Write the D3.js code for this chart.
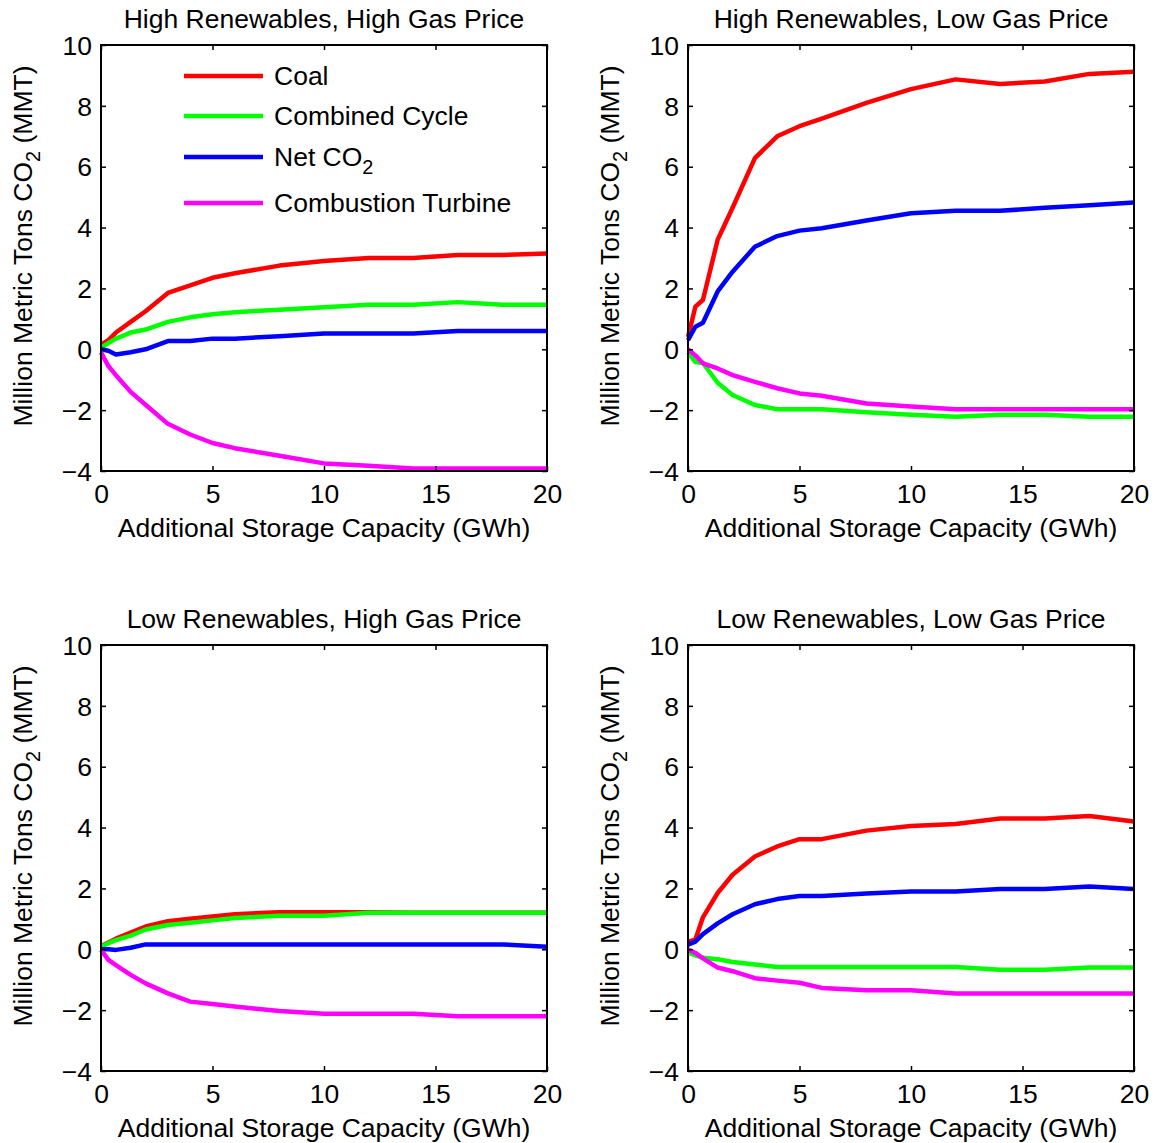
<!DOCTYPE html>
<html>
<head>
<meta charset="utf-8">
<script src="https://cdn.jsdelivr.net/npm/d3@7"></script>
<style>
  body { margin: 0; background: #fff; }
  text { font-family: "Liberation Sans", Arial, sans-serif; fill: #000; }
</style>
</head>
<body>
<svg id="chart"></svg>
<script>
const WIDTH = 1156;
const HEIGHT = 1143;

// storage capacity (GWh)
const xVals = [0, 0.33, 0.67, 1.33, 2, 3, 4, 5, 6, 8, 10, 12, 14, 16, 18, 20];
const xTicks = [0, 5, 10, 15, 20];
const yTicks = [-4, -2, 0, 2, 4, 6, 8, 10];

const seriesNames = ["Coal", "Combined Cycle", "Net CO2", "Combustion Turbine"];
const seriesColors = ["#ff0000", "#00ff00", "#0000ff", "#ff00ff"];

const panelTitles = [
  "High Renewables, High Gas Price",
  "High Renewables, Low Gas Price",
  "Low Renewables, High Gas Price",
  "Low Renewables, Low Gas Price",
];

// High Renewables, High Gas Price
const hrhgCoal = [0.15, 0.3, 0.55, 0.9, 1.25, 1.85, 2.1, 2.35, 2.5, 2.75, 2.9, 3.0, 3.0, 3.1, 3.1, 3.15];
const hrhgCC = [0.05, 0.2, 0.35, 0.55, 0.65, 0.9, 1.05, 1.15, 1.22, 1.3, 1.38, 1.46, 1.46, 1.55, 1.46, 1.46];
const hrhgNet = [0, -0.05, -0.17, -0.1, 0, 0.27, 0.27, 0.35, 0.35, 0.43, 0.52, 0.52, 0.52, 0.6, 0.6, 0.6];
const hrhgCT = [-0.1, -0.55, -0.85, -1.4, -1.82, -2.45, -2.8, -3.08, -3.25, -3.5, -3.75, -3.83, -3.92, -3.92, -3.92, -3.92];

// High Renewables, Low Gas Price
const hrlgCoal = [0.4, 1.4, 1.62, 3.6, 4.65, 6.28, 7.0, 7.33, 7.58, 8.1, 8.55, 8.87, 8.72, 8.8, 9.05, 9.12];
const hrlgCC = [-0.1, -0.42, -0.45, -1.1, -1.5, -1.83, -1.97, -1.97, -1.97, -2.07, -2.15, -2.22, -2.15, -2.15, -2.22, -2.22];
const hrlgNet = [0.3, 0.74, 0.87, 1.9, 2.55, 3.37, 3.72, 3.9, 3.98, 4.23, 4.47, 4.55, 4.55, 4.65, 4.73, 4.82];
const hrlgCT = [0, -0.2, -0.46, -0.63, -0.85, -1.07, -1.28, -1.45, -1.53, -1.78, -1.88, -1.97, -1.97, -1.97, -1.97, -1.97];

// Low Renewables, High Gas Price
const lrhgCoal = [0.1, 0.22, 0.35, 0.55, 0.75, 0.92, 1.0, 1.08, 1.15, 1.22, 1.22, 1.22, 1.2, 1.2, 1.2, 1.2];
const lrhgCC = [0.08, 0.2, 0.3, 0.45, 0.65, 0.8, 0.87, 0.95, 1.03, 1.1, 1.1, 1.2, 1.2, 1.2, 1.2, 1.2];
const lrhgNet = [0, 0, -0.02, 0.05, 0.16, 0.16, 0.16, 0.16, 0.16, 0.16, 0.16, 0.16, 0.16, 0.16, 0.16, 0.08];
const lrhgCT = [-0.02, -0.35, -0.52, -0.84, -1.12, -1.45, -1.72, -1.8, -1.88, -2.03, -2.12, -2.12, -2.12, -2.2, -2.2, -2.2];

// Low Renewables, Low Gas Price
const lrlgCoal = [0.25, 0.32, 1.05, 1.85, 2.45, 3.05, 3.38, 3.62, 3.62, 3.9, 4.05, 4.12, 4.3, 4.3, 4.38, 4.2];
const lrlgCC = [-0.1, -0.2, -0.28, -0.33, -0.42, -0.5, -0.58, -0.58, -0.58, -0.58, -0.58, -0.58, -0.67, -0.67, -0.6, -0.6];
const lrlgNet = [0.15, 0.25, 0.5, 0.85, 1.15, 1.48, 1.65, 1.75, 1.75, 1.83, 1.9, 1.9, 1.98, 1.98, 2.06, 1.98];
const lrlgCT = [0, -0.12, -0.3, -0.6, -0.72, -0.95, -1.03, -1.1, -1.27, -1.35, -1.35, -1.45, -1.45, -1.45, -1.45, -1.45];

const panelSeries = [
  [hrhgCoal, hrhgCC, hrhgNet, hrhgCT],
  [hrlgCoal, hrlgCC, hrlgNet, hrlgCT],
  [lrhgCoal, lrhgCC, lrhgNet, lrhgCT],
  [lrlgCoal, lrlgCC, lrlgNet, lrlgCT],
];

const PLOT_W = 446;
const PLOT_H = 426;
const origins = [[101, 45], [688, 45], [101, 645], [688, 645]];
const FONT = 26.5;

const svg = d3.select("#chart").attr("width", WIDTH).attr("height", HEIGHT);

const x = d3.scaleLinear().domain([0, 20]).range([0, PLOT_W]);
const y = d3.scaleLinear().domain([-4, 10]).range([PLOT_H, 0]);

const line = d3.line()
  .x((d) => x(d[0]))
  .y((d) => y(d[1]));

panelSeries.forEach((series, p) => {
  const [ox, oy] = origins[p];
  const g = svg.append("g").attr("transform", `translate(${ox},${oy})`);

  // lines
  g.append("g")
    .attr("class", "lines")
    .selectAll("path")
    .data(series)
    .join("path")
    .attr("d", (vals) => line(vals.map((v, i) => [xVals[i], v])))
    .attr("fill", "none")
    .attr("stroke", (_, i) => seriesColors[i])
    .attr("stroke-width", 4.5)
    .attr("stroke-linejoin", "round");

  // axes (ticks pointing inward, MATLAB style box)
  const bottom = g.append("g")
    .attr("transform", `translate(0,${PLOT_H})`)
    .call(d3.axisBottom(x).tickValues(xTicks).tickSize(-5).tickSizeOuter(0).tickPadding(13));
  const left = g.append("g")
    .call(d3.axisLeft(y).tickValues(yTicks).tickSize(-5).tickSizeOuter(0).tickPadding(9));
  g.append("g")
    .call(d3.axisTop(x).tickValues(xTicks).tickSize(-5).tickSizeOuter(0).tickFormat(""));
  g.append("g")
    .attr("transform", `translate(${PLOT_W},0)`)
    .call(d3.axisRight(y).tickValues(yTicks).tickSize(-5).tickSizeOuter(0).tickFormat(""));

  g.selectAll(".domain").remove();
  g.selectAll(".tick line").attr("stroke", "#000").attr("stroke-width", 1.5);
  bottom.selectAll("text").attr("font-size", FONT).attr("font-family", null).attr("dy", "0.71em");
  left.selectAll("text").attr("font-size", FONT).attr("font-family", null).attr("dy", "0.35em");

  g.append("rect")
    .attr("width", PLOT_W)
    .attr("height", PLOT_H)
    .attr("fill", "none")
    .attr("stroke", "#000")
    .attr("stroke-width", 2);

  // title
  g.append("text")
    .attr("x", PLOT_W / 2)
    .attr("y", -17)
    .attr("text-anchor", "middle")
    .attr("font-size", FONT)
    .text(panelTitles[p]);

  // x label
  g.append("text")
    .attr("x", PLOT_W / 2)
    .attr("y", PLOT_H + 66)
    .attr("text-anchor", "middle")
    .attr("font-size", FONT)
    .text("Additional Storage Capacity (GWh)");

  // y label with subscript
  const yl = g.append("text")
    .attr("transform", `translate(-69,${PLOT_H / 2 - 12}) rotate(-90)`)
    .attr("text-anchor", "middle")
    .attr("font-size", FONT);
  yl.append("tspan").text("Million Metric Tons CO");
  yl.append("tspan").attr("font-size", FONT * 0.75).attr("dy", 8).text("2");
  yl.append("tspan").attr("dy", -8).text(" (MMT)");

  // legend only in first panel
  if (p === 0) {
    const legendY = [31, 71, 112, 158];
    g.append("g")
      .attr("class", "legend")
      .attr("transform", "translate(83,0)")
      .selectAll(".item")
      .data(seriesNames)
      .join((enter) => {
        const it = enter.append("g")
          .attr("class", "item")
          .attr("transform", (_, i) => `translate(0,${legendY[i]})`);
        it.append("line")
          .attr("x1", 0)
          .attr("x2", 79)
          .attr("stroke", (_, i) => seriesColors[i])
          .attr("stroke-width", 4.5);
        it.append("text")
          .attr("x", 90)
          .attr("y", 9)
          .attr("font-size", FONT)
          .each(function (d) {
            const t = d3.select(this);
            if (d === "Net CO2") {
              t.append("tspan").text("Net CO");
              t.append("tspan").attr("font-size", FONT * 0.75).attr("dy", 8).text("2");
            } else {
              t.text(d);
            }
          });
        return it;
      });
  }
});
</script>
</body>
</html>
